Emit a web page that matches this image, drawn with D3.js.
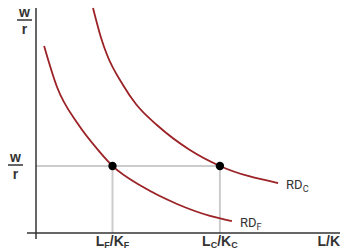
<!DOCTYPE html>
<html>
<head>
<meta charset="utf-8">
<script src="https://cdn.jsdelivr.net/npm/d3@7"></script>
<style>
  body { margin: 0; background: #fff; }
  svg { display: block; }
</style>
</head>
<body>
<div id="chart"></div>
<script>
// points (x = L/K, y = w/r)
const rdF = [[0.27, 8.31], [0.70, 6.49], [1.40, 4.84], [2.10, 3.64], [2.55, 2.98],
             [3.57, 2.04], [4.70, 1.29], [5.80, 0.76], [6.53, 0.53]];
const rdC = [[1.90, 10.0], [2.17, 8.67], [2.37, 7.91], [2.90, 6.58], [3.33, 5.73],
             [4.03, 4.80], [5.13, 3.69], [6.13, 2.98], [8.07, 2.22]];
const wageRatio = 2.98;
const equilibria = [2.55, 6.13];
const tickLabels = [["L", "F", "/K", "F"], ["L", "C", "/K", "C"]];
const curveLabels = [["RD", "C"], ["RD", "F"]];

const width = 340, height = 248;
const x = d3.scaleLinear().domain([0, 10]).range([36, 336]);
const y = d3.scaleLinear().domain([0, 10]).range([233, 8]);

const svg = d3.select("#chart").append("svg")
  .attr("width", width)
  .attr("height", height);

// guide lines
svg.append("line")
  .attr("x1", x(0)).attr("x2", x(equilibria[1]))
  .attr("y1", y(wageRatio)).attr("y2", y(wageRatio))
  .attr("stroke", "#cccccc").attr("stroke-width", 2);

svg.selectAll(".vguide")
  .data(equilibria)
  .enter().append("line")
  .attr("x1", d => x(d)).attr("x2", d => x(d))
  .attr("y1", y(wageRatio)).attr("y2", y(0))
  .attr("stroke", "#cccccc").attr("stroke-width", 2);

// axes
svg.append("line")
  .attr("x1", x(0)).attr("x2", x(0))
  .attr("y1", 8).attr("y2", 239)
  .attr("stroke", "#333").attr("stroke-width", 1.5);
svg.append("line")
  .attr("x1", 27).attr("x2", 340)
  .attr("y1", y(0)).attr("y2", y(0))
  .attr("stroke", "#333").attr("stroke-width", 1.5);

// curves
var line = d3.line()
  .x(d => x(d[0]))
  .y(d => y(d[1]))
  .curve(d3.curveMonotoneX);

[rdC, rdF].forEach(function (pts) {
  svg.append("path")
    .datum(pts)
    .attr("d", line)
    .attr("fill", "none")
    .attr("stroke", "#9b2226")
    .attr("stroke-width", 1.8);
});

// equilibrium dots
svg.selectAll(".dot")
  .data(equilibria)
  .enter().append("circle")
  .attr("cx", d => x(d))
  .attr("cy", y(wageRatio))
  .attr("r", 4.2)
  .attr("fill", "#000");

// curve labels
var labelPos = [rdC[rdC.length - 1], rdF[rdF.length - 1]];
curveLabels.forEach(function (lab, i) {
  var t = svg.append("text")
    .attr("x", x(labelPos[i][0]) + 8)
    .attr("y", y(labelPos[i][1]) + 6)
    .attr("font-family", "Roboto, sans-serif")
    .attr("font-size", 13)
    .attr("fill", "#333");
  t.append("tspan").text(lab[0]);
  t.append("tspan").attr("font-size", 9).attr("dy", 3).text(lab[1]);
});

// x tick labels
tickLabels.forEach(function (lab, i) {
  var t = svg.append("text")
    .attr("x", x(equilibria[i]))
    .attr("y", 246)
    .attr("text-anchor", "middle")
    .attr("font-family", "Liberation Sans, Arial, sans-serif")
    .attr("font-weight", "bold")
    .attr("font-size", 14)
    .attr("fill", "#333");
  t.append("tspan").text(lab[0]);
  t.append("tspan").attr("font-size", 9).attr("dy", 1.5).text(lab[1]);
  t.append("tspan").attr("dy", -1.5).text(lab[2]);
  t.append("tspan").attr("font-size", 9).attr("dy", 1.5).text(lab[3]);
});

svg.append("text")
  .attr("x", 340)
  .attr("y", 246)
  .attr("text-anchor", "end")
  .attr("font-family", "Liberation Sans, Arial, sans-serif")
  .attr("font-weight", "bold")
  .attr("font-size", 14)
  .attr("fill", "#333")
  .text("L/K");

// w/r fractions on the y axis
function fraction(cx, lineY) {
  var g = svg.append("g")
    .attr("font-family", "Liberation Sans, Arial, sans-serif")
    .attr("font-weight", "bold")
    .attr("font-size", 14)
    .attr("fill", "#333")
    .attr("text-anchor", "middle");
  g.append("text").attr("x", cx).attr("y", lineY - 3).text("w");
  g.append("line")
    .attr("x1", cx - 7.5).attr("x2", cx + 7.5)
    .attr("y1", lineY).attr("y2", lineY)
    .attr("stroke", "#333").attr("stroke-width", 1.5);
  g.append("text").attr("x", cx).attr("y", lineY + 14).text("r");
}
fraction(24.5, 20);
fraction(15.5, 165);
</script>
</body>
</html>
